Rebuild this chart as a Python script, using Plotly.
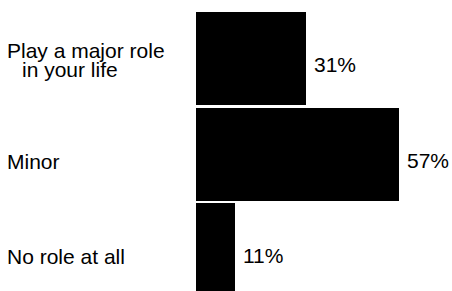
import plotly.graph_objects as go

# Data
categories = [["Play a major role", "in your life"], ["Minor"], ["No role at all"]]
values = [31, 57, 11]
value_labels = ["31%", "57%", "11%"]

W, H = 452, 291
L, T = 196, 11
X_MAX = 72.0

FONT = dict(family="Liberation Sans, Arial, Helvetica, sans-serif", size=21, color="#000000")

y_pos = list(range(len(values)))

fig = go.Figure(
    go.Bar(
        x=values,
        y=y_pos,
        orientation="h",
        width=0.97,
        marker=dict(color="#000000", line=dict(width=0)),
        hoverinfo="skip",
    )
)

annotations = []
plot_w = W - L
for i, (lines, v, vl) in enumerate(zip(categories, values, value_labels)):
    n = len(lines)
    block_offset = 7 if n == 1 else 1
    for j, line in enumerate(lines):
        center = block_offset + (j - (n - 1) / 2) * 18.5
        annotations.append(dict(
            x=(5 - L) / plot_w, xref="paper", y=i, yref="y",
            xanchor="left", yanchor="middle",
            xshift=15 if j > 0 else 0,
            yshift=-center,
            text=line, showarrow=False, font=FONT,
        ))
    annotations.append(dict(
        x=v, xref="x", y=i, yref="y",
        xanchor="left", yanchor="middle",
        xshift=6, yshift=-6,
        text=vl, showarrow=False, font=FONT,
    ))

fig.update_layout(
    width=W, height=H,
    margin=dict(l=L, r=0, t=T, b=0, pad=0),
    paper_bgcolor="#ffffff", plot_bgcolor="#ffffff",
    showlegend=False,
    bargap=0,
    xaxis=dict(range=[0, X_MAX], visible=False, showgrid=False, zeroline=False),
    yaxis=dict(range=[2.432, -0.5], visible=False, showgrid=False, zeroline=False),
    annotations=annotations,
)

fig.write_html(
    "out.html",
    config={"displayModeBar": False},
    post_script="document.body.style.margin='0';document.body.style.overflow='hidden';",
)
